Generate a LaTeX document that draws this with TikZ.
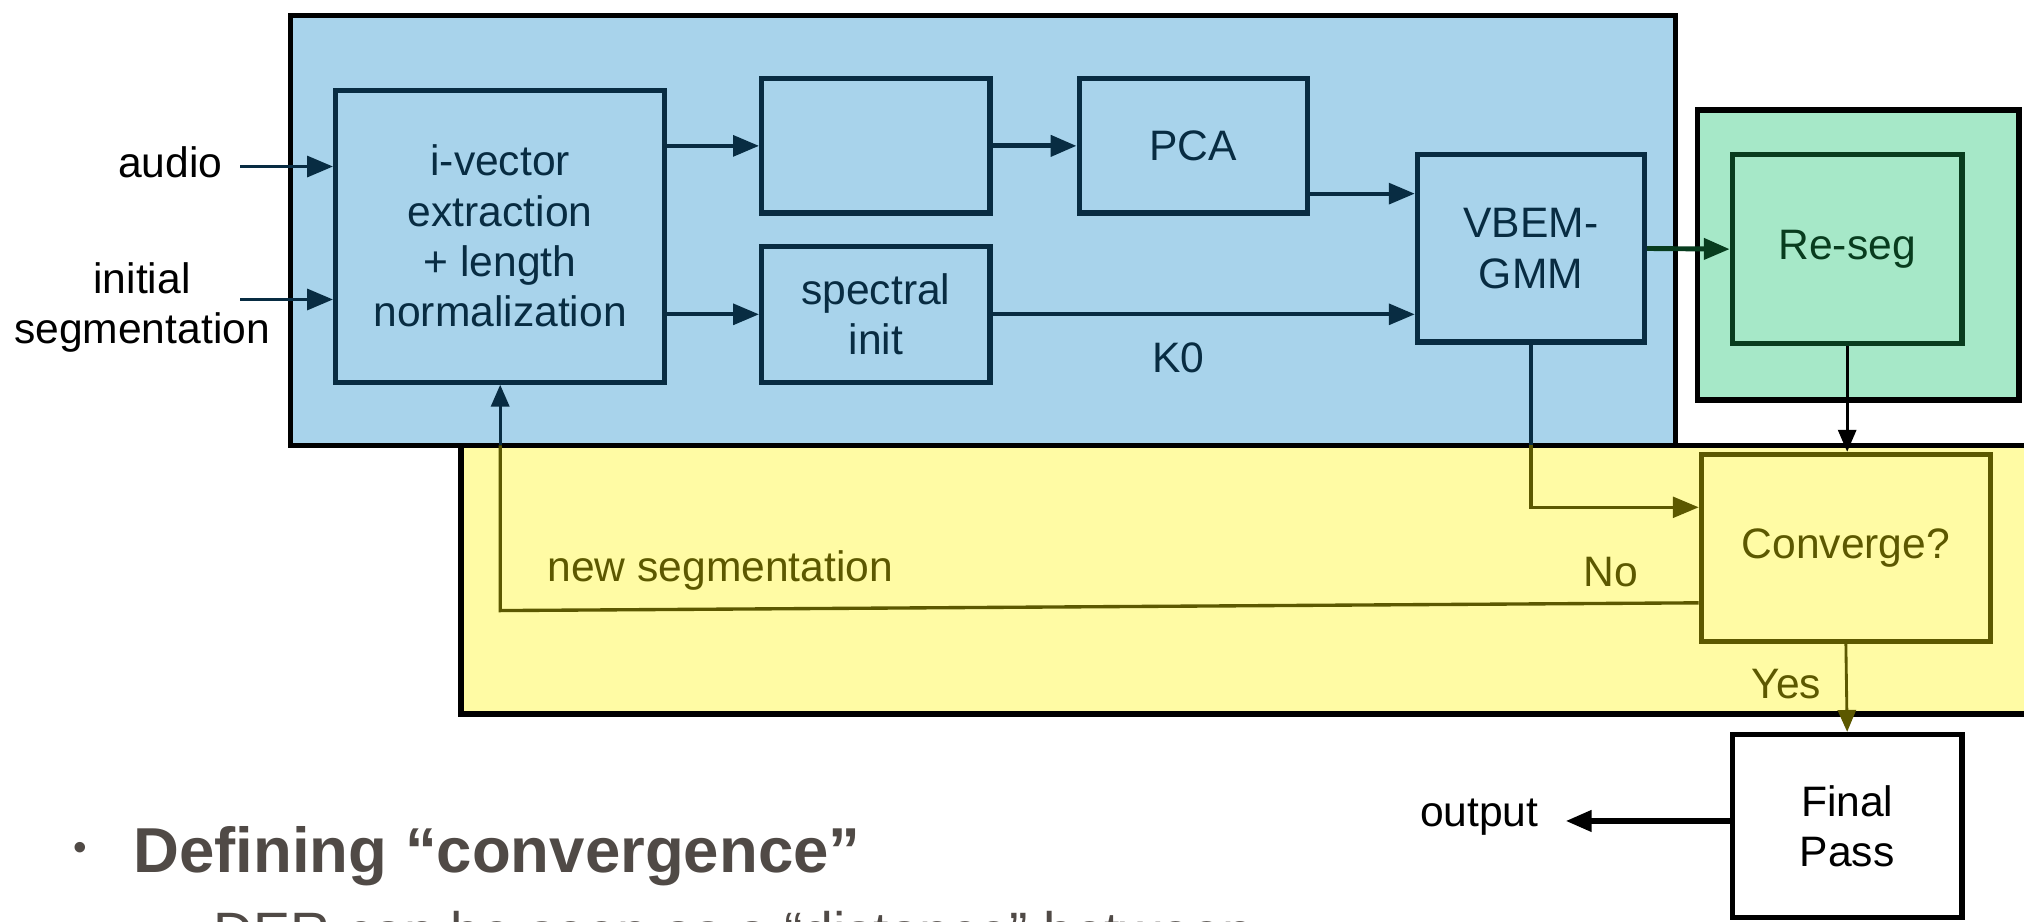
\documentclass[tikz,border=0pt]{standalone}
\usepackage{fontspec}
\setmainfont{Liberation Sans}
\usetikzlibrary{arrows.meta,positioning}

\definecolor{bluefill}{RGB}{168,211,235}
\definecolor{yellowfill}{RGB}{255,251,164}
\definecolor{greenfill}{RGB}{166,232,200}
\definecolor{navy}{RGB}{8,44,66}
\definecolor{olive}{RGB}{92,88,0}
\definecolor{deepgreen}{RGB}{8,60,30}
\definecolor{slidegray}{RGB}{80,74,70}

\tikzset{
  region/.style={draw=black, line width=2.2pt},
  blk/.style={draw=navy, line width=2pt, text=navy, align=center, inner sep=0pt,
    font=\fontsize{16.5}{19.5}\selectfont},
  lbl/.style={font=\fontsize{16.5}{19.5}\selectfont, align=center},
  arr/.style={-{Triangle[length=10pt,width=8pt]}, line width=1.5pt},
  thinarr/.style={-{Triangle[length=8.5pt,width=7pt]}, line width=1.1pt},
}

\begin{document}
\begin{tikzpicture}[x=0.5pt, y=-0.5pt]
\useasboundingbox (0,0) rectangle (1568,714);

% coloured regions
\path[region, fill=yellowfill] (357,345) rectangle (1620,553);
\path[region, fill=bluefill] (225,12) rectangle (1298,345);
\path[region, fill=greenfill] (1315,85) rectangle (1564,310);

% processing blocks
\node[blk, minimum width=127.5pt, minimum height=113pt] (ivec) at (387.5,183)
  {i-vector\\extraction\\+ length\\normalization};
\node[blk, minimum width=88.5pt, minimum height=52pt] (empty) at (678.5,113) {};
\node[blk, minimum width=88.5pt, minimum height=52pt] (pca) at (924.5,113) {PCA};
\node[blk, minimum width=88.5pt, minimum height=52.5pt] (spec) at (678.5,243.5) {spectral\\init};
\node[blk, minimum width=88pt, minimum height=72.5pt] (vbem) at (1186,192.5) {VBEM-\\GMM};
\node[blk, draw=deepgreen, text=deepgreen, minimum width=89pt, minimum height=73pt] (reseg) at (1431,193) {Re-seg};
\node[blk, draw=olive, text=olive, minimum width=112pt, minimum height=72.5pt] (conv) at (1430,424.5) {Converge?};
\node[blk, draw=black, text=black, fill=white, minimum width=89pt, minimum height=71pt] (final) at (1431,640) {Final\\Pass};

% inputs and output
\node[lbl] (audio) at (132,126) {audio};
\node[lbl] (init) at (110,238) {initial\\segmentation};
\node[lbl] (output) at (1146,633) {output};
\coordinate (audioout) at (186,129);
\coordinate (initout) at (186,232);
\coordinate (outtip) at (1213,636);

\draw[arr, navy] (audioout) -- (audioout -| ivec.west);
\draw[arr, navy] (initout) -- (initout -| ivec.west);

% forward path
\draw[arr, navy] (ivec.east |- empty.west) -- (empty.west);
\draw[arr, navy] (ivec.east |- spec.west) -- (spec.west);
\draw[arr, navy, line width=1.9pt] (empty.east) -- (pca.west);
\coordinate (pcaout) at ([yshift=-18.5pt]pca.east);
\draw[arr, navy] (pcaout) -- (pcaout -| vbem.west);
\draw[arr, navy] (spec.east) -- (spec.east -| vbem.west)
  node[pos=0.44, below=7pt, lbl, text=navy] {K0};
\draw[arr, deepgreen, line width=1.9pt] (vbem.east) -- (reseg.west);
\draw[thinarr, black] (reseg.south) -- (reseg.south |- conv.north);

% convergence check
\coordinate (bluebottom) at (0,345);
\coordinate (convin) at ([yshift=15.75pt]conv.west);
\draw[arr, olive, line width=1.3pt] (vbem.south) |- (convin);
\draw[navy, line width=1.3pt] (vbem.south) -- (vbem.south |- bluebottom);

\coordinate (noout) at ([yshift=-21.25pt]conv.west);
\coordinate (loopcorner) at (387.5,473);
\draw[olive, line width=1.3pt] (noout) -- (loopcorner) -- (loopcorner |- bluebottom);
\draw[thinarr, navy, line width=1.3pt] (loopcorner |- bluebottom) -- (ivec.south);
\node[lbl, text=olive] (nolbl) at (1248,443) {No};
\node[lbl, text=olive] (newseg) at (558,442) {new segmentation};

\draw[thinarr, olive] (conv.south) -- (final.north)
  node[pos=0.45, left=6pt, lbl, text=olive] {Yes};

\draw[arr, black, line width=2pt] (final.west |- outtip) -- (outtip);

% slide text below the diagram
\node[text=slidegray, font=\fontsize{15}{15}\selectfont] (bullet) at (62,660) {•};
\node[anchor=base west, inner sep=0pt, text=slidegray, font=\fontsize{24.6}{28}\bfseries] (heading)
  at (103,676) {Defining “convergence”};
\node[anchor=base west, inner sep=0pt, text=slidegray, font=\fontsize{21.5}{25}\selectfont] (subline)
  at (165,737) {DER can be seen as a “distance” between};
\end{tikzpicture}
\end{document}
